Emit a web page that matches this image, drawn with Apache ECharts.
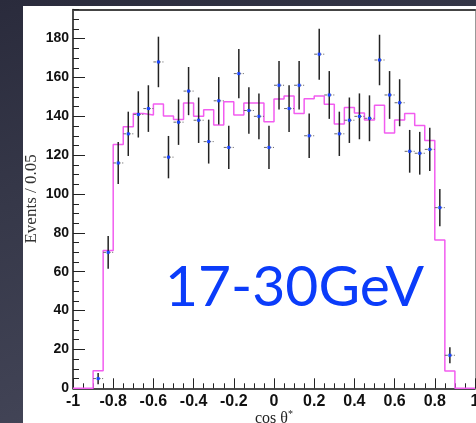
<!DOCTYPE html>
<html><head><meta charset="utf-8">
<script src="https://cdn.jsdelivr.net/npm/echarts@6/dist/echarts.min.js"></script>
<style>
html,body{margin:0;padding:0;width:476px;height:423px;overflow:hidden;}
body{background:linear-gradient(160deg,#2a2b3c 0%,#363849 35%,#4a4c5f 100%);}
#panel{position:absolute;left:23px;top:6px;width:453px;height:417px;background:#fff;}
#chart{position:absolute;left:0;top:0;width:476px;height:423px;}
</style></head><body>
<div id="panel"></div><div id="chart"></div>
<script>
// Histogram (MC) bin edges and contents, width 0.05
const binEdges = [-1,-0.95,-0.9,-0.85,-0.8,-0.75,-0.7,-0.65,-0.6,-0.55,-0.5,-0.45,-0.4,-0.35,-0.3,-0.25,-0.2,-0.15,-0.1,-0.05,
  0,0.05,0.1,0.15,0.2,0.25,0.3,0.35,0.4,0.45,0.5,0.55,0.6,0.65,0.7,0.75,0.8,0.85,0.9,0.95,1];
const histValues = [0,0,9,71,125.5,134.7,141.5,140.7,146.3,140.2,138.4,146.9,140,143.4,135.5,147.5,140.7,146.9,146.9,137.2,
  148.9,150.5,141.4,149.1,150.5,146.2,136,144.6,141.7,138.1,145.7,131.4,138.1,141.5,135.3,127.6,76.4,8.9,0,0];
// Data points (bin centres), values and errors
const pointX = [-0.875,-0.825,-0.775,-0.725,-0.675,-0.625,-0.575,-0.525,-0.475,-0.425,-0.375,-0.325,-0.275,-0.225,-0.175,-0.125,-0.075,-0.025,
  0.025,0.075,0.125,0.175,0.225,0.275,0.325,0.375,0.425,0.475,0.525,0.575,0.625,0.675,0.725,0.775,0.825,0.875];
const pointY = [5,70,116,131,141,144,168,119,137,153,138,127,148,124,162,143,140,124,
  156,144,156,130,172,151,131,138,140,139,169,151,147,122,121,123,93,17];
const pointErr = [2.9,8.4,10.8,11.4,11.9,12,13,10.9,11.7,12.4,11.7,11.3,12.2,11.1,12.7,12,11.8,11.1,
  12.5,12,12.5,11.4,13.1,12.3,11.4,11.7,11.8,11.8,13,12.3,12.1,11,11,11.1,9.6,4.1];
const xTicks = [-1,-0.8,-0.6,-0.4,-0.2,0,0.2,0.4,0.6,0.8,1];
const yTicks = [0,20,40,60,80,100,120,140,160,180];
const labelText = '17-30GeV';

const histData = binEdges.map((e,i)=>[e, i<histValues.length ? histValues[i] : histValues[histValues.length-1]]);
const ptData = pointX.map((x,i)=>[x,pointY[i],pointErr[i]]);

const chart = echarts.init(document.getElementById('chart'), null, {renderer:'canvas'});
chart.setOption({
  backgroundColor:'transparent',
  animation:false,
  grid:{left:73,right:1,top:9.5,bottom:34.7,containLabel:false,outerBoundsMode:'none'},
  xAxis:[{
    type:'value',min:-1,max:1,interval:0.2,
    axisLine:{show:true,onZero:false,lineStyle:{color:'#111',width:1.5}},
    axisTick:{show:true,inside:true,length:10,lineStyle:{color:'#222',width:1}},
    minorTick:{show:true,splitNumber:4,length:5,lineStyle:{color:'#222',width:1}},
    splitLine:{show:false},
    axisLabel:{margin:5,fontFamily:'Liberation Sans, Arial, sans-serif',fontWeight:'bold',fontSize:16,color:'#111',
      formatter:v=>{const t=xTicks.find(k=>Math.abs(k-v)<1e-6);return t===undefined?'':String(t);}},
    name:'cos θ{s|*}',nameLocation:'middle',nameGap:21,nameMoveOverlap:false,
    nameTextStyle:{fontFamily:'Liberation Serif, Times New Roman, serif',fontSize:16,color:'#222',
      rich:{s:{fontSize:10,verticalAlign:'top',padding:[0,0,8,0],fontFamily:'Liberation Serif, serif',color:'#222'}}}
  },{
    type:'value',position:'top',min:-1,max:1,
    axisLine:{show:true,onZero:false,lineStyle:{color:'#444',width:2}},
    axisTick:{show:false},axisLabel:{show:false},splitLine:{show:false}
  }],
  yAxis:[{
    type:'value',min:0,max:195,interval:20,
    axisLine:{show:true,onZero:false,lineStyle:{color:'#111',width:1.5}},
    axisTick:{show:true,inside:true,length:12,lineStyle:{color:'#222',width:1}},
    splitLine:{show:false},
    axisLabel:{margin:4,fontFamily:'Liberation Sans, Arial, sans-serif',fontWeight:'bold',fontSize:14,color:'#111',
      showMaxLabel:false,
      formatter:v=>{const t=yTicks.find(k=>Math.abs(k-v)<1e-6);return t===undefined?'':String(t);}},
    name:'Events / 0.05',nameLocation:'middle',nameGap:33,nameMoveOverlap:false,
    nameTextStyle:{fontFamily:'Liberation Serif, Times New Roman, serif',fontSize:17,color:'#333'}
  },{
    type:'value',min:0,max:195,interval:5,position:'left',
    axisLine:{show:false,onZero:false},
    axisTick:{show:true,inside:true,length:6,lineStyle:{color:'#222',width:1}},
    axisLabel:{show:false},splitLine:{show:false}
  },{
    type:'value',min:0,max:195,position:'right',
    axisLine:{show:true,onZero:false,lineStyle:{color:'#999',width:1}},
    axisTick:{show:false},axisLabel:{show:false},splitLine:{show:false}
  }],
  graphic:[{
    type:'text',left:165,top:259,z:1,
    style:{text:labelText,fontFamily:'Lato, Open Sans, sans-serif',fontSize:57,fill:'#0b3cfa'}
  }],
  series:[{
    type:'line',xAxisIndex:0,yAxisIndex:0,step:'end',data:histData,showSymbol:false,
    lineStyle:{color:'#f25cf0',width:1.5},z:3
  },{
    type:'custom',xAxisIndex:0,yAxisIndex:0,data:ptData,z:4,
    renderItem:(params,api)=>{
      const x=api.value(0),y=api.value(1),e=api.value(2);
      const c=api.coord([x,y]);
      const t=api.coord([x,y+e]),b=api.coord([x,y-e]);
      const l=api.coord([x-0.025,y]),r=api.coord([x+0.025,y]);
      return {type:'group',children:[
        {type:'line',shape:{x1:c[0],y1:t[1],x2:c[0],y2:b[1]},style:{stroke:'#222',lineWidth:1.5}},
        {type:'line',shape:{x1:l[0],y1:c[1],x2:r[0],y2:c[1]},style:{stroke:'#666',lineWidth:1,lineDash:[3,1.5]}},
        {type:'rect',shape:{x:c[0]-1.5,y:c[1]-1.5,width:3,height:3},style:{fill:'#1a44ff'}}
      ]};
    }
  }]
});
</script>
</body></html>
